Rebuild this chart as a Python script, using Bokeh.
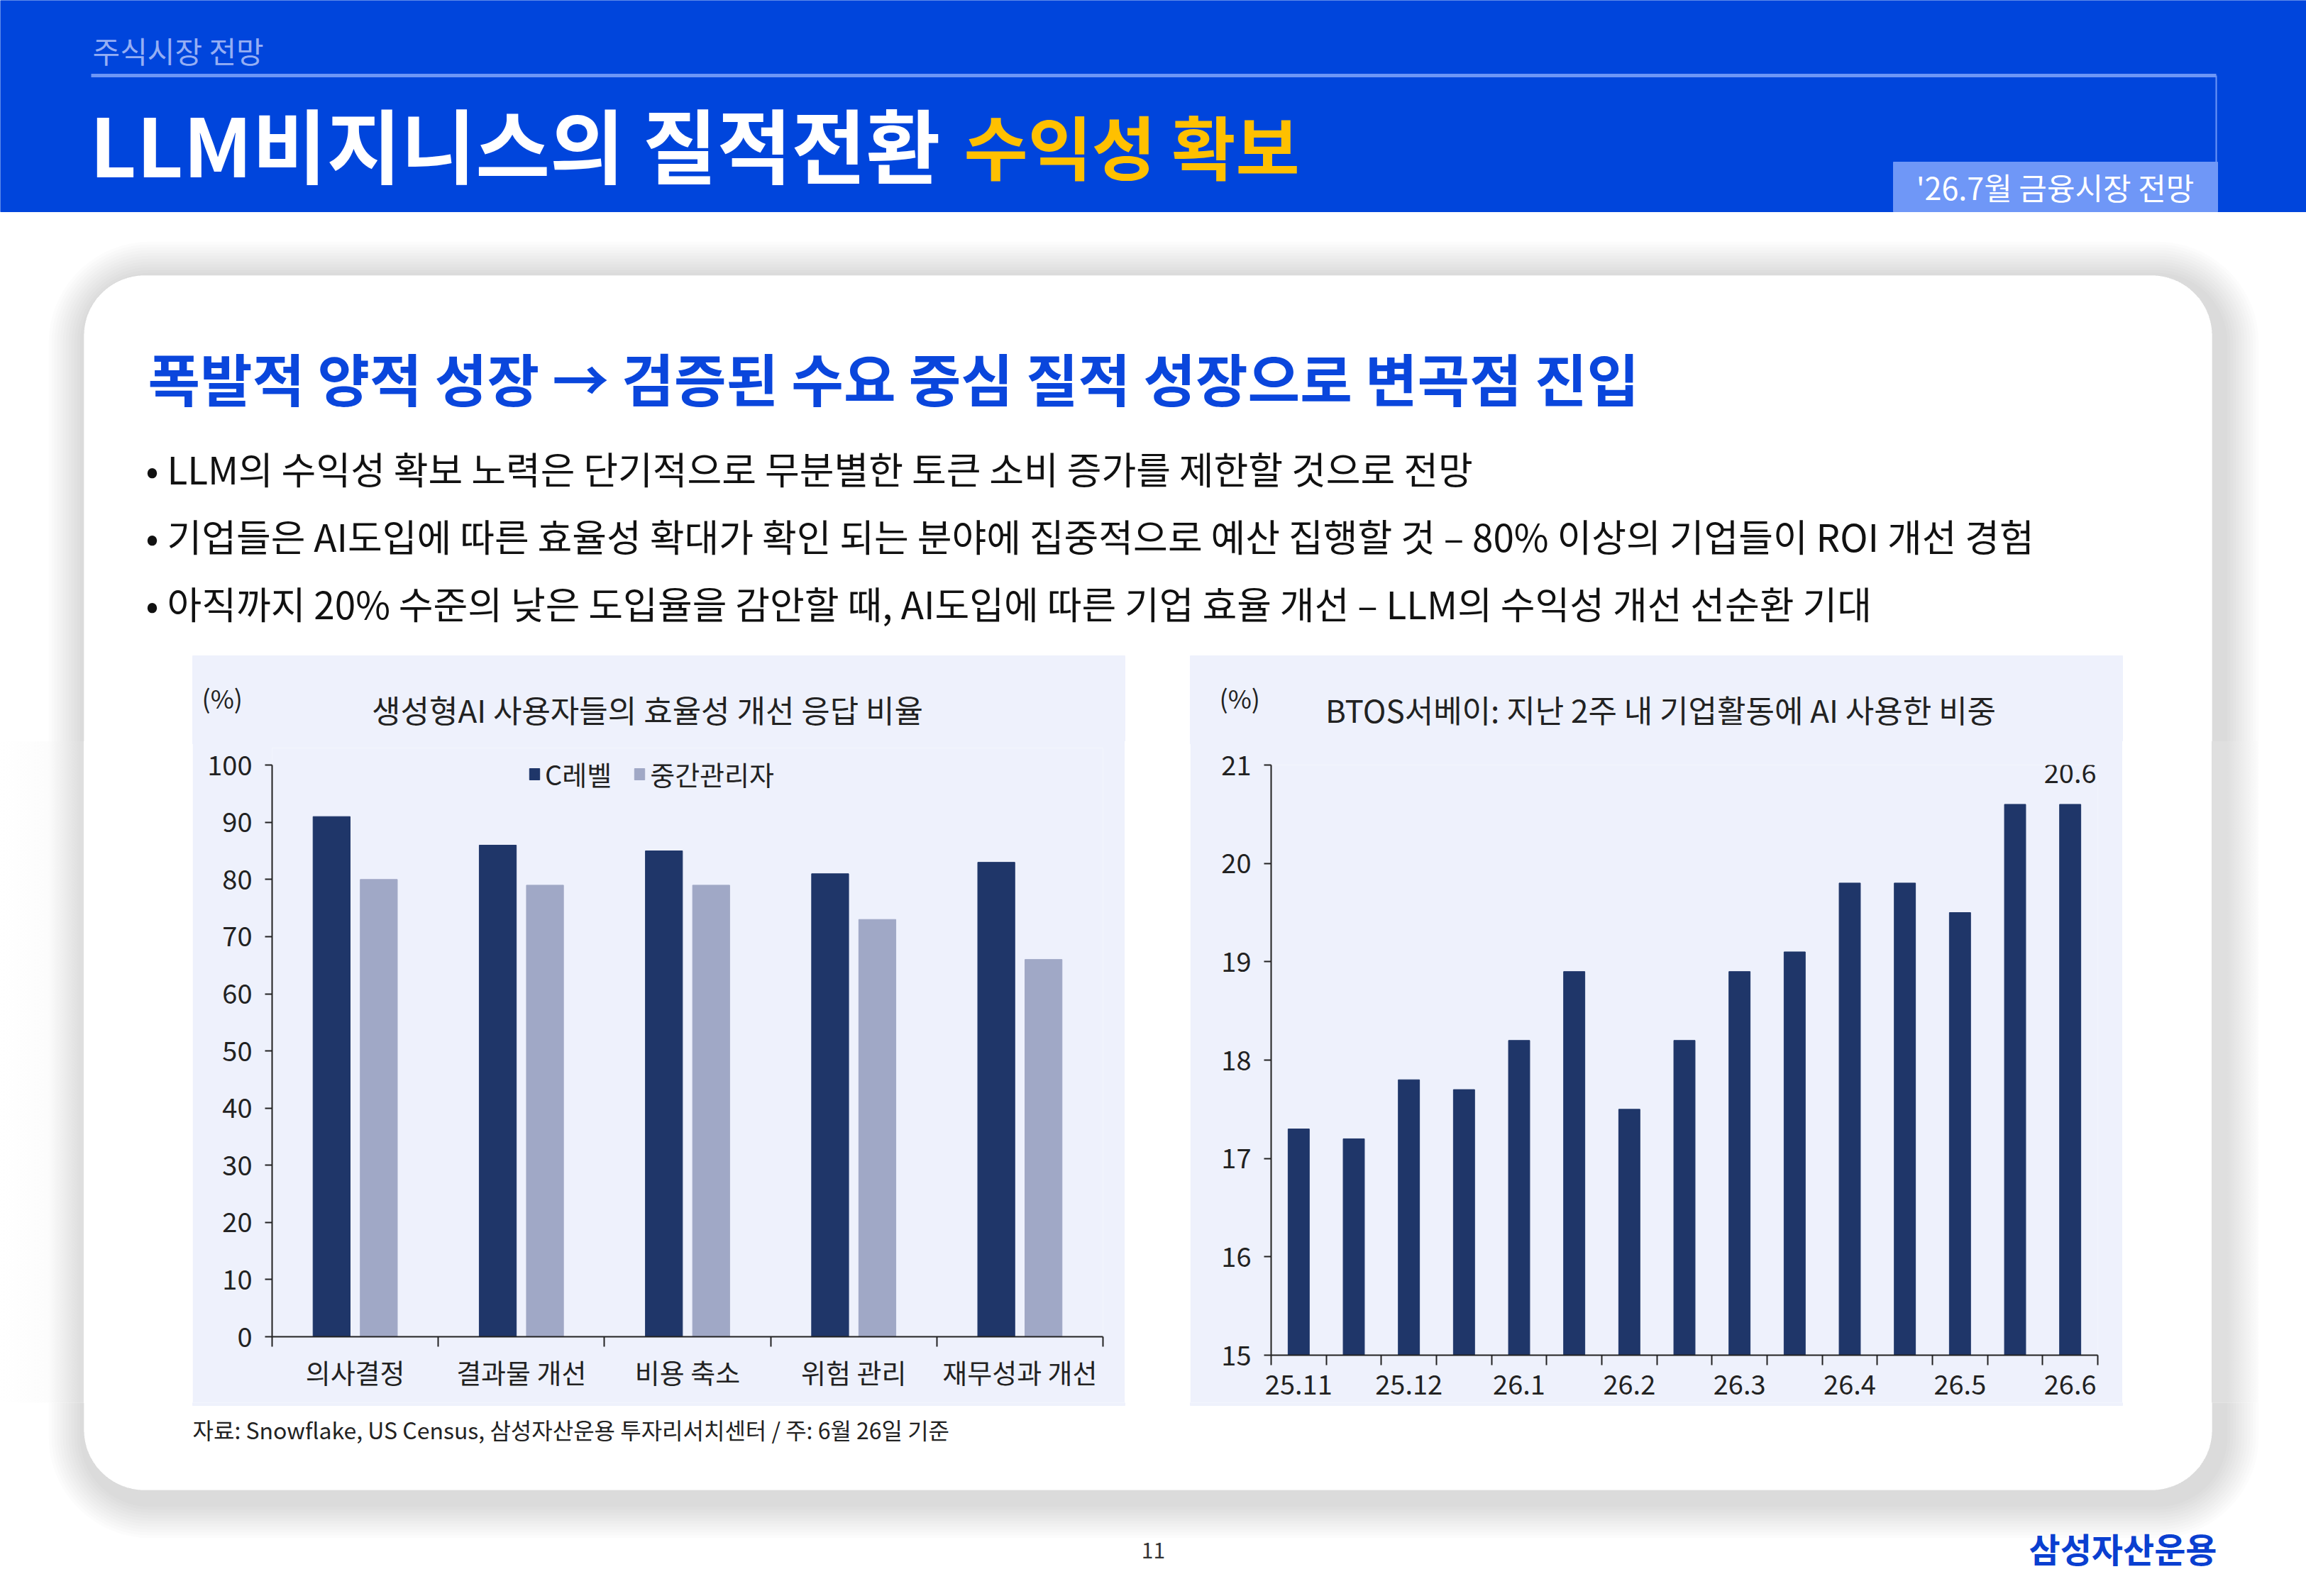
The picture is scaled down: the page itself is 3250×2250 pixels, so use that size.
import numpy as np
from bokeh.plotting import figure
from bokeh.layouts import column, row
from bokeh.models import Range1d, FixedTicker, Legend, LegendItem, ColumnDataSource, Div
from bokeh.transform import dodge
from bokeh.core.properties import value
from bokeh.embed import file_html
from bokeh.resources import INLINE

FONT = "Noto Sans CJK KR"

# ---------------- data ----------------
cats1 = ["의사결정", "결과물 개선", "비용 축소", "위험 관리", "재무성과 개선"]
c_level = [91, 86, 85, 81, 83]
mid_mgr = [80, 79, 79, 73, 66]
y1_ticks = [0, 10, 20, 30, 40, 50, 60, 70, 80, 90, 100]

periods2 = ["25.11", "", "25.12", "", "26.1", "", "26.2", "", "26.3", "", "26.4", "", "26.5", "", "26.6"]
ai_use = [17.3, 17.2, 17.8, 17.7, 18.2, 18.9, 17.5, 18.2, 18.9, 19.1, 19.8, 19.8, 19.5, 20.6, 20.6]
y2_ticks = [15, 16, 17, 18, 19, 20, 21]

bullets = [
    "• LLM의 수익성 확보 노력은 단기적으로 무분별한 토큰 소비 증가를 제한할 것으로 전망",
    "• 기업들은 AI도입에 따른 효율성 확대가 확인 되는 분야에 집중적으로 예산 집행할 것 – 80% 이상의 기업들이 ROI 개선 경험",
    "• 아직까지 20% 수준의 낮은 도입율을 감안할 때,  AI도입에 따른 기업 효율 개선 – LLM의 수익성 개선 선순환 기대",
]

# ---------------- styles ----------------
BLUE = "#0045DC"
LINE_BLUE = "#6E96F6"
PANEL = "#EEF1FC"
NAVY = "#1F3669"
GREYBLUE = "#A0A8C6"
TXT = "#1a1a1a"

W, H = 3250, 2250
CARD = (118, 388, 3117, 2100)
CARD_R = 85
PANEL_Y0 = 924
MID_Y0, MID_Y1 = 1045, 1981
OV = 4  # overlap between stacked pieces, hides seams
P1_X0, P1_X1 = 271, 1585
P2_X0, P2_X1 = 1677, 2991


def rrect(x0, y0, x1, y1, r, n=18):
    xs, ys = [], []
    corners = [(x1 - r, y0 + r, -90, 0), (x1 - r, y1 - r, 0, 90),
               (x0 + r, y1 - r, 90, 180), (x0 + r, y0 + r, 180, 270)]
    for cx, cy, a0, a1 in corners:
        for t in np.linspace(np.radians(a0), np.radians(a1), n):
            xs.append(float(cx + r * np.cos(t)))
            ys.append(float(cy + r * np.sin(t)))
    return xs, ys


def deco(x0, x1, y0, y1):
    f = figure(width=x1 - x0, height=y1 - y0, x_range=Range1d(x0, x1), y_range=Range1d(y1, y0),
               output_backend="svg", toolbar_location=None, tools="", min_border=0,
               x_axis_type=None, y_axis_type=None, outline_line_color=None,
               background_fill_color="white", border_fill_color="white")
    f.grid.visible = False
    cx0, cy0, cx1, cy1 = CARD
    card_x, card_y = rrect(*CARD, CARD_R)
    mxs, mys = [], []
    for k in range(12, 0, -1):
        e = 4 * k + 10
        ox, oy = rrect(cx0 - e + 8, cy0 - e + 10, cx1 + e + 8, cy1 + e + 10, CARD_R + e)
        mxs.append([[ox, card_x]])
        mys.append([[oy, card_y]])
    f.multi_polygons(xs=mxs, ys=mys, fill_color="black", fill_alpha=0.011, line_color=None)
    return f


def txt(f, x, y, s, size, color=TXT, align="left", bold=False, baseline="middle"):
    f.text(x=[x], y=[y], text=[s], text_font=value(FONT), text_font_size=size,
           text_color=color, text_align=align, text_baseline=baseline,
           text_font_style="bold" if bold else "normal")


# ---------------- top ----------------
top = deco(0, W, 0, MID_Y0 + OV)
top.quad(left=0, right=W, top=0, bottom=298, color=BLUE)
top.line(x=[128, 3123], y=[106, 106], line_color=LINE_BLUE, line_width=5)
top.line(x=[3123, 3123], y=[106, 228], line_color=LINE_BLUE, line_width=2)
top.quad(left=2668, right=3125, top=228, bottom=298, color="#6F97F7")
txt(top, 130, 70, "주식시장 전망", "42px", color="#95AEF4")
txt(top, 126, 200, "LLM비지니스의 질적전환", "114px", color="white", bold=True)
txt(top, 1358, 202, "수익성 확보", "98px", color="#FFC000", bold=True)
txt(top, 2896, 262, "'26.7월 금융시장 전망", "43px", color="white", align="center")
txt(top, 208, 530, "폭발적 양적 성장 → 검증된 수요 중심 질적 성장으로 변곡점 진입", "80px", color="#0A46DC", bold=True)
for yy, s in zip([659, 754, 849], bullets):
    txt(top, 205, yy, s, "53px", color="#111111")
# upper part of the two chart panels, with their titles
top.quad(left=P1_X0, right=P1_X1, top=PANEL_Y0, bottom=MID_Y0 + 2 * OV, color=PANEL)
top.quad(left=P2_X0, right=P2_X1, top=PANEL_Y0, bottom=MID_Y0 + 2 * OV, color=PANEL)
txt(top, 284, 982, "(%)", "36px", color="#222222")
txt(top, 912, 999, "생성형AI 사용자들의 효율성 개선 응답 비율", "44px", color="#222222", align="center")
txt(top, 1718, 982, "(%)", "36px", color="#222222")
txt(top, 2340, 999, "BTOS서베이: 지난 2주 내 기업활동에 AI 사용한 비중", "44px", color="#222222", align="center")

# ---------------- middle row ----------------
MH = MID_Y1 - MID_Y0
left_d = Div(text="", width=P1_X0, height=MH, margin=(0, 0, 0, 0),
             styles={"background": "linear-gradient(to right, #ffffff 0px, #fcfcfc 68px, #dfdfdf 112px, "
                                   "#dfdfdf 118px, #ffffff 118px, #ffffff 271px)"})
gap_d = Div(text="", width=P2_X0 - P1_X1, height=MH, margin=(0, 0, 0, 0),
            styles={"background": "#ffffff"})
right_d = Div(text="", width=W - P2_X1, height=MH, margin=(0, 0, 0, 0),
              styles={"background": "linear-gradient(to right, #ffffff 0px, #ffffff 126px, #dfdfdf 126px, "
                                    "#dfdfdf 148px, #fcfcfc 192px, #ffffff 192px, #ffffff 259px)"})


def chart_fig(xr, yr, mbl, mbr, mbt, mbb):
    f = figure(width=P1_X1 - P1_X0, height=MH, x_range=xr, y_range=yr,
               output_backend="svg", toolbar_location=None, tools="",
               min_border_left=mbl, min_border_right=mbr, min_border_top=mbt, min_border_bottom=mbb,
               background_fill_color=PANEL, border_fill_color=PANEL, outline_line_color=None)
    f.xgrid.visible = False
    f.ygrid.visible = False
    for ax in (f.xaxis[0], f.yaxis[0]):
        ax.axis_line_color = "#222222"
        ax.axis_line_width = 2
        ax.major_label_text_font = FONT
        ax.major_label_text_font_size = "38px"
        ax.major_label_text_color = "#222222"
    return f


# chart 1 (a little headroom above 100 for the legend; the axis itself stops at 100)
x1c = np.arange(len(cats1)) + 0.5
c1 = chart_fig(Range1d(0, len(cats1)), Range1d(0, 103), 112, 31, 1054 - MID_Y0, MID_Y1 - 1884)
src1 = ColumnDataSource(dict(x=x1c, c=c_level, m=mid_mgr))
r1 = c1.vbar(x=dodge("x", -0.142), top="c", bottom=0, width=0.223, source=src1, color=NAVY)
r2 = c1.vbar(x=dodge("x", 0.142), top="m", bottom=0, width=0.223, source=src1, color=GREYBLUE)
xa = c1.xaxis[0]
xa.ticker = FixedTicker(ticks=list(x1c), minor_ticks=list(range(len(cats1) + 1)))
xa.major_label_overrides = {float(x): c for x, c in zip(x1c, cats1)}
xa.major_tick_line_color = None
xa.major_tick_out = 14
xa.major_tick_in = 0
xa.minor_tick_out = 14
xa.minor_tick_in = 0
xa.minor_tick_line_color = "#222222"
xa.minor_tick_line_width = 2
xa.major_label_standoff = 7
ya = c1.yaxis[0]
ya.ticker = FixedTicker(ticks=y1_ticks)
ya.bounds = (y1_ticks[0], y1_ticks[-1])
ya.major_tick_out = 10
ya.major_tick_in = 0
ya.major_tick_line_color = "#222222"
ya.major_tick_line_width = 2
ya.minor_tick_line_color = None
ya.major_label_standoff = 18
leg = Legend(items=[LegendItem(label="C레벨", renderers=[r1]), LegendItem(label="중간관리자", renderers=[r2])],
             orientation="horizontal", location=(361, 766), background_fill_alpha=0,
             border_line_color=None, padding=0, margin=0, spacing=30, glyph_width=18, glyph_height=20,
             label_height=38, label_standoff=6, label_text_font=FONT, label_text_font_size="38px",
             label_text_color="#222222")
c1.add_layout(leg)

# chart 2
x2c = np.arange(len(ai_use)) + 0.5
c2 = chart_fig(Range1d(0, len(ai_use)), Range1d(15, 21), 114, 35, 1078 - MID_Y0, MID_Y1 - 1910)
src2 = ColumnDataSource(dict(x=x2c, v=ai_use))
c2.vbar(x="x", top="v", bottom=15, width=0.385, source=src2, color=NAVY)
xb = c2.xaxis[0]
xb.ticker = FixedTicker(ticks=list(x2c), minor_ticks=list(range(len(ai_use) + 1)))
xb.major_label_overrides = {float(x): p for x, p in zip(x2c, periods2)}
xb.major_tick_line_color = None
xb.major_tick_out = 14
xb.major_tick_in = 0
xb.minor_tick_out = 14
xb.minor_tick_in = 0
xb.minor_tick_line_color = "#222222"
xb.minor_tick_line_width = 2
xb.major_label_standoff = 13
yb = c2.yaxis[0]
yb.ticker = FixedTicker(ticks=y2_ticks)
yb.major_tick_out = 10
yb.major_tick_in = 0
yb.major_tick_line_color = "#222222"
yb.major_tick_line_width = 2
yb.minor_tick_line_color = None
yb.major_label_standoff = 18
c2.text(x=[x2c[-1]], y=[ai_use[-1]], text=[f"{ai_use[-1]:.1f}"], text_font=value(FONT),
        text_font_size="38px", text_color="#222222", text_align="center", text_baseline="bottom", y_offset=-30)

# ---------------- bottom ----------------
bot = deco(0, W, MID_Y1 - OV, H)
bot.quad(left=P1_X0, right=P1_X1, top=MID_Y1 - 2 * OV, bottom=MID_Y1, color=PANEL)
bot.quad(left=P2_X0, right=P2_X1, top=MID_Y1 - 2 * OV, bottom=MID_Y1, color=PANEL)
txt(bot, 271, 2014, "자료: Snowflake, US Census, 삼성자산운용 투자리서치센터 / 주: 6월 26일 기준", "32px", color="#222222")
txt(bot, 1625, 2185, "11", "30px", color="#333333", align="center")
txt(bot, 3124, 2181, "삼성자산운용", "48px", color="#0A3FD0", align="right", bold=True)

mid = row(left_d, column(c1, spacing=0), gap_d, column(c2, spacing=0), right_d, spacing=0,
          margin=(-OV, 0, 0, 0))
bot_box = row(bot, spacing=0, margin=(-OV, 0, 0, 0))
layout = column(top, mid, bot_box, spacing=0)
open("out.html", "w").write(file_html(layout, INLINE))
